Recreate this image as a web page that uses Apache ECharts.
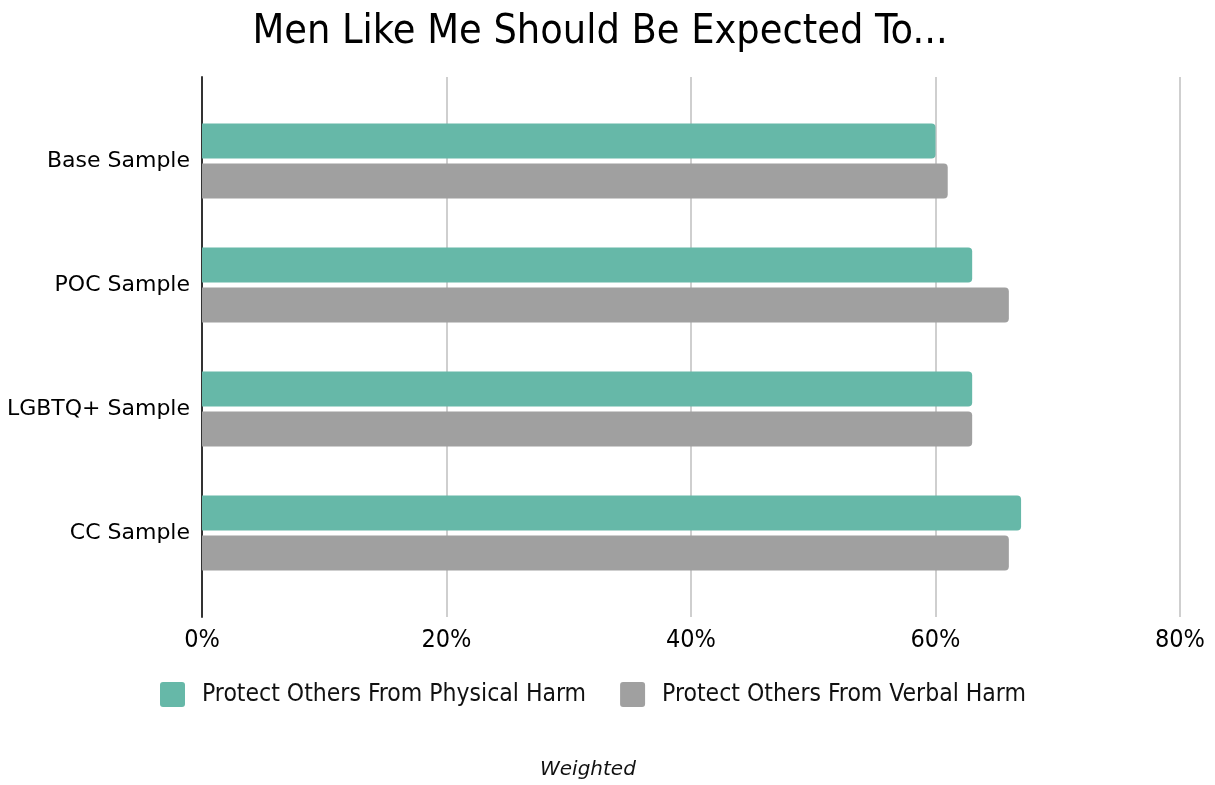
<!DOCTYPE html>
<html>
<head>
<meta charset="utf-8">
<script src="https://cdn.jsdelivr.net/npm/echarts@6/dist/echarts.min.js"></script>
<style>
  html, body { margin: 0; padding: 0; background: #fff; }
  #chart { width: 1215px; height: 785px; }
</style>
</head>
<body>
<div id="chart"></div>
<script>
var categories = ['Base Sample', 'POC Sample', 'LGBTQ+ Sample', 'CC Sample'];
var physicalHarm = [60, 63, 63, 67];
var verbalHarm = [61, 66, 63, 66];
var xTicks = [0, 20, 40, 60, 80];

var condensed = '"DejaVu Sans Condensed", "Liberation Sans Narrow", "DejaVu Sans", sans-serif';
var squareIcon = 'path://M3,0 H22 Q25,0 25,3 V22 Q25,25 22,25 H3 Q0,25 0,22 V3 Q0,0 3,0 Z';

var chart = echarts.init(document.getElementById('chart'));
chart.setOption({
	animation: false,
	title: {
		text: 'Men Like Me Should Be Expected To...',
		left: 595,
		top: 7,
		textAlign: 'center',
		textStyle: { fontFamily: condensed, fontSize: 41, fontWeight: 'normal', color: '#000' }
	},
	legend: {
		left: 155,
		top: 677,
		itemWidth: 25,
		itemHeight: 25,
		itemGap: 34,
		icon: squareIcon,
		textStyle: { fontFamily: condensed, fontSize: 24.5, color: '#111', padding: [0, 0, 0, 12] },
		data: ['Protect Others From Physical Harm', 'Protect Others From Verbal Harm']
	},
	graphic: [{
		type: 'text',
		left: 540,
		top: 760,
		style: { text: 'Weighted', font: 'italic 20px "DejaVu Sans", sans-serif', fill: '#111' }
	}],
	grid: [
		{ left: 202, right: 35, top: 77, height: 540 },
		{ left: 202, right: 35, top: 99, height: 496 }
	],
	xAxis: [{
		gridIndex: 0,
		type: 'value',
		min: xTicks[0],
		max: xTicks[xTicks.length - 1],
		interval: 20,
		axisLine: { show: false },
		axisTick: { show: false },
		axisLabel: { formatter: '{value}%', fontFamily: condensed, fontSize: 25, color: '#000', margin: 11 },
		splitLine: { lineStyle: { color: '#cfcfcf', width: 2 } }
	}, {
		gridIndex: 1,
		type: 'value',
		min: xTicks[0],
		max: xTicks[xTicks.length - 1],
		show: false
	}],
	yAxis: [{
		gridIndex: 0,
		type: 'category',
		data: [''],
		axisLine: { lineStyle: { color: '#333', width: 2 } },
		axisTick: { show: false },
		axisLabel: { show: false }
	}, {
		gridIndex: 1,
		type: 'category',
		inverse: true,
		data: categories,
		axisLine: { show: false },
		axisTick: { show: false },
		axisLabel: { fontFamily: '"DejaVu Sans", sans-serif', fontSize: 22, color: '#000', margin: 12 }
	}],
	series: [{
		name: 'Protect Others From Physical Harm',
		type: 'bar',
		xAxisIndex: 1,
		yAxisIndex: 1,
		data: physicalHarm,
		barWidth: 35,
		barGap: '14%',
		itemStyle: { color: '#66b8a8', borderRadius: [0, 4, 4, 0] }
	}, {
		name: 'Protect Others From Verbal Harm',
		type: 'bar',
		xAxisIndex: 1,
		yAxisIndex: 1,
		data: verbalHarm,
		barWidth: 35,
		itemStyle: { color: '#a0a0a0', borderRadius: [0, 4, 4, 0] }
	}]
});
</script>
</body>
</html>
